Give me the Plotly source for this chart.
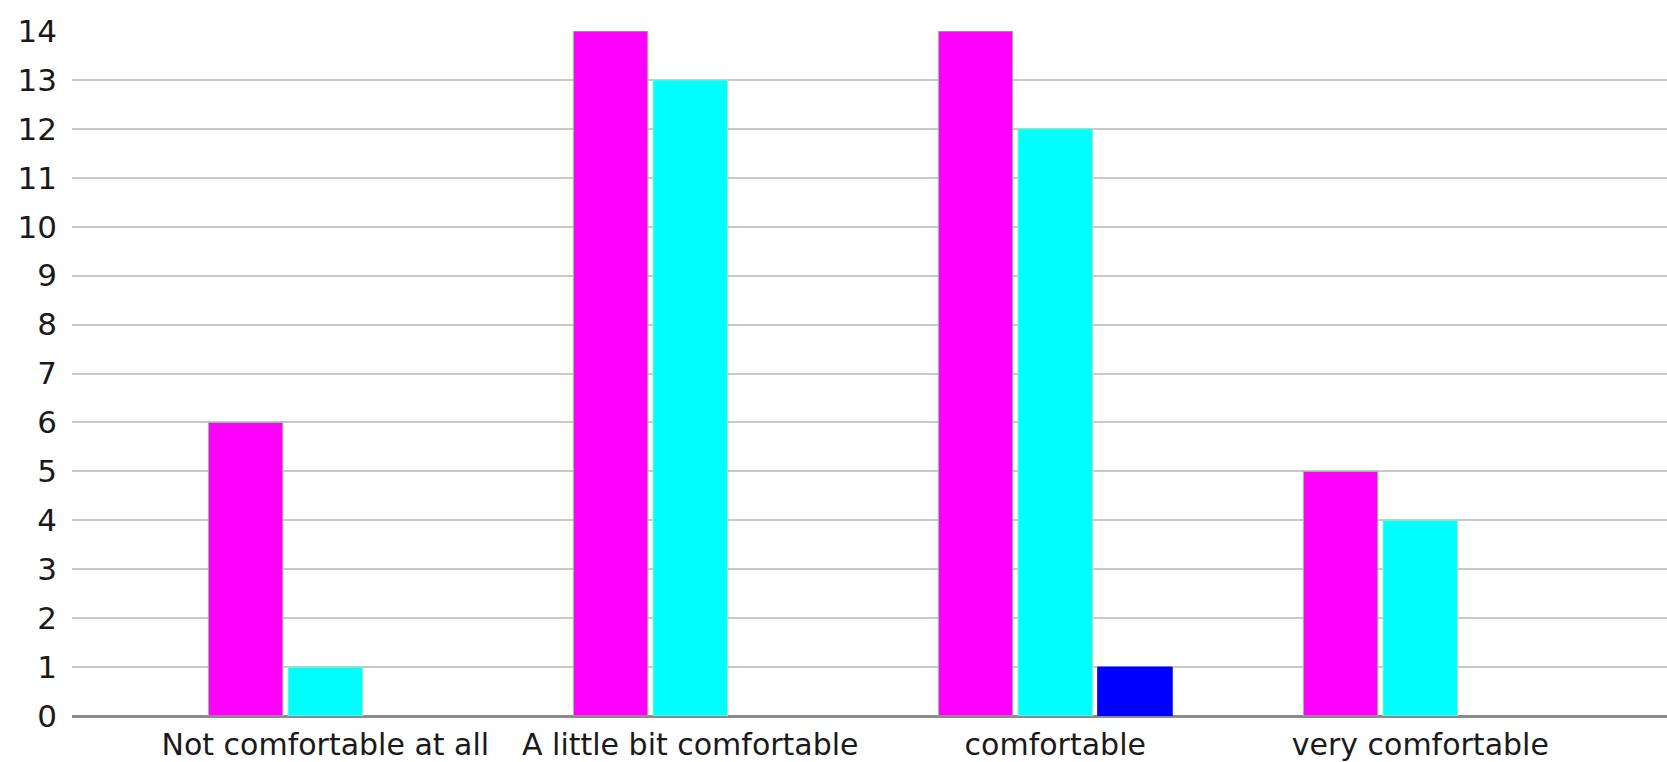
import plotly.graph_objects as go

categories = ["Not comfortable at all", "A little bit comfortable", "comfortable", "very comfortable"]
series_a = [6, 14, 14, 5]
series_b = [1, 13, 12, 4]
series_c = [None, None, 1, None]
y_ticks = list(range(0, 15))

colors = ["#ff00ff", "#00ffff", "#0000ff"]
outline = ["#7fd87f", "#9fe8c0", "#0000ff"]

fig = go.Figure()
for vals, c, oc, name in zip([series_a, series_b, series_c], colors, outline, ["A", "B", "C"]):
    fig.add_trace(go.Bar(
        x=list(range(len(categories))), y=vals, name=name,
        marker=dict(color=c, line=dict(color=oc, width=1)),
    ))

fig.update_layout(
    width=1667, height=762,
    margin=dict(l=72, r=0, t=31, b=46, autoexpand=False),
    plot_bgcolor="white", paper_bgcolor="white",
    barmode="group", bargap=0.345, bargroupgap=0.065,
    showlegend=False,
    font=dict(family="DejaVu Sans, sans-serif", size=30, color="#1a1a1a"),
    xaxis=dict(
        range=[-0.694, 3.676], automargin=False,
        tickmode="array", tickvals=list(range(len(categories))), ticktext=categories,
        showgrid=False, zeroline=False, showline=False,
        ticks="", ticklabelstandoff=8,
        tickfont=dict(size=30),
    ),
    yaxis=dict(
        range=[0, 14], automargin=False,
        tickmode="array", tickvals=y_ticks, ticktext=[str(v) for v in y_ticks],
        showgrid=True, gridcolor="#c8c8c8", gridwidth=1.5,
        zeroline=True, zerolinecolor="#8a8a8a", zerolinewidth=3,
        showline=False, ticks="", ticklabelstandoff=14,
        tickfont=dict(size=31),
    ),
)

fig.write_html("out.html", config={"displayModeBar": False},
               post_script="document.body.style.margin='0';document.body.style.overflow='hidden';")
